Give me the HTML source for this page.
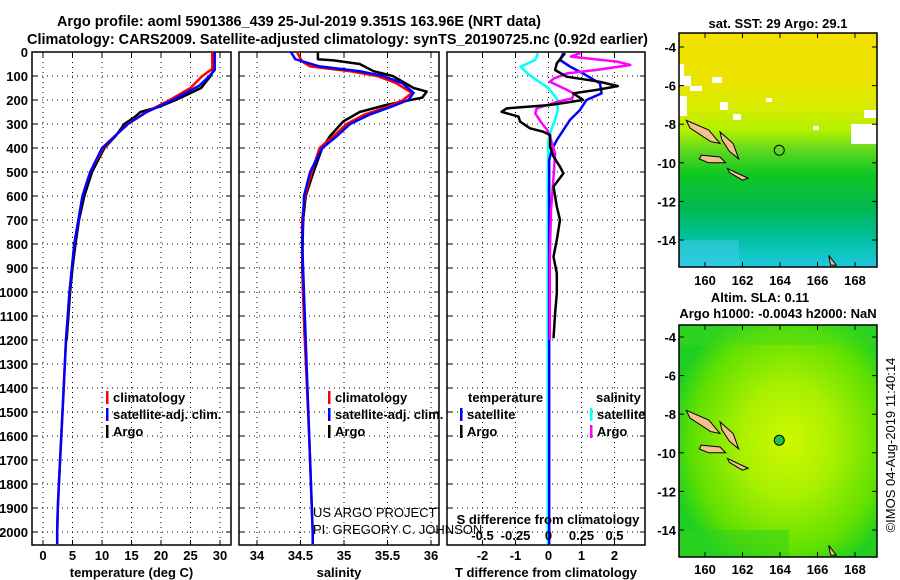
<!DOCTYPE html>
<html><head><meta charset="utf-8"><style>
html,body{margin:0;padding:0;background:#fff}
svg{display:block}
text{font-family:"Liberation Sans",Arial,sans-serif;font-weight:bold;fill:#000}
</style></head><body>
<svg id="fig" width="900" height="580" viewBox="0 0 900 580" xmlns="http://www.w3.org/2000/svg">
<rect width="900" height="580" fill="#fff"/>
<text x="57" y="26" font-size="15" textLength="484" lengthAdjust="spacingAndGlyphs">Argo profile: aoml 5901386_439 25-Jul-2019 9.351S 163.96E (NRT data)</text>
<text x="27" y="44" font-size="15" textLength="621" lengthAdjust="spacingAndGlyphs">Climatology: CARS2009. Satellite-adjusted climatology: synTS_20190725.nc (0.92d earlier)</text>
<g id="p1"></g>
<g id="p2"></g>
<g id="p3"></g>
<g id="maps"></g>
<text x="313" y="517" font-size="13" style="font-weight:normal" fill="#222">US ARGO PROJECT</text>
<text x="313" y="534" font-size="13" style="font-weight:normal" fill="#222">PI: GREGORY C. JOHNSON</text>
<text transform="translate(895,445) rotate(-90)" text-anchor="middle" font-size="13" style="font-weight:normal">©IMOS 04-Aug-2019 11:40:14</text>
</svg>
<script>
// ---- data (depth m) ----
const tClimDepth=[0,70,100,150,200,250,300,350,400,500,600,700,800,900,1000,1100,1200,1400,1500,1600,1700,1800,1900,2000,2050];
const tClim=[28.7,28.7,27.0,25.0,21.5,17.5,14.3,12.2,10.2,8.0,6.7,6.0,5.3,4.9,4.5,4.2,3.9,3.5,3.3,3.1,2.9,2.7,2.5,2.4,2.4];
const tSatDepth=[0,75,100,140,200,250,300,350,400,500,600,700,800,900,1000,1100,1200,1400,1500,1600,1700,1800,1900,2000,2050];
const tSat=[29.1,29.1,28.2,26.5,22.0,17.6,14.4,12.2,10.0,8.0,6.7,6.0,5.3,4.9,4.5,4.2,3.9,3.5,3.3,3.1,2.9,2.7,2.5,2.4,2.4];
const tArgoDepth=[0,70,100,150,200,230,250,270,300,350,400,500,600,700,800,900,1000,1100,1200];
const tArgo=[29.0,29.0,28.4,26.8,22.5,19.5,16.5,15.6,13.8,12.3,10.4,8.3,7.0,6.1,5.5,5.0,4.6,4.3,4.0];
const sClimDepth=[0,40,60,80,100,130,170,200,230,260,300,350,400,500,600,700,800,1000,1200,1600,2000,2050];
const sClim=[34.46,34.52,34.61,35.07,35.38,35.60,35.78,35.68,35.49,35.24,35.03,34.88,34.72,34.63,34.55,34.52,34.52,34.53,34.55,34.60,34.64,34.64];
const sSatDepth=[0,30,60,80,100,130,170,200,230,260,300,350,400,500,600,800,1200,1600,2000,2050];
const sSat=[34.39,34.44,34.72,35.18,35.45,35.67,35.80,35.74,35.53,35.30,35.07,34.92,34.75,34.61,34.54,34.52,34.56,34.60,34.64,34.64];
const sArgoDepth=[0,30,35,50,80,100,150,165,190,220,250,290,350,400,500,600,700,900,1200];
const sArgo=[34.70,34.70,34.88,35.18,35.34,35.56,35.80,35.95,35.90,35.49,35.18,34.99,34.84,34.75,34.65,34.56,34.53,34.52,34.55];
const dTArgoDepth=[5,47,75,103,124,142,158,172,200,221,235,249,269,290,318,332,346,394,436,478,506,561,644,700,783,853,922,1006,1089,1193];
const dTArgo=[0.5,0.25,0.2,0.55,1.56,2.1,1.46,0.75,1.05,0.05,-1.27,-1.42,-0.91,-0.86,-0.56,-0.16,0.05,0.05,0.15,0.35,0.45,0.15,0.25,0.35,0.25,0.15,0.25,0.25,0.2,0.15];
const dTSatDepth=[5,33,61,89,131,172,200,242,283,325,367,408,450,600,1000,1500,2050];
const dTSat=[0.45,0.35,0.65,1.05,1.56,1.61,1.15,0.95,0.65,0.45,0.25,0.1,0.02,0.02,0.02,0.02,0.02];
const dSArgoDepth=[5,19,40,54,75,89,110,124,158,172,193,207,235,256,290,325,367,422,506,650,850,1200];
const dSArgo=[0.24,0.17,0.52,0.62,0.36,0.14,0.04,0.01,0.14,0.19,0.18,0.07,-0.09,-0.10,-0.06,-0.01,0.02,0.05,0.04,0.02,0.01,0.01];
const dSSatDepth=[5,33,61,89,117,151,200,242,283,325,367,506,1000,1500,2050];
const dSSat=[-0.08,-0.10,-0.21,-0.16,-0.09,0.0,0.07,0.07,0.05,0.02,0.0,-0.005,-0.005,-0.005,-0.005];
const depthTicks=[0,100,200,300,400,500,600,700,800,900,1000,1100,1200,1300,1400,1500,1600,1700,1800,1900,2000];
const tTicks=[0,5,10,15,20,25,30];
const sTicks=[34,34.5,35,35.5,36];
const dTTicks=[-2,-1,0,1,2];
const dSTicks=[-0.5,-0.25,0,0.25,0.5];
const dSTickLabels=['-0.5','-0.25','0','0.25','0.5'];

const NS="http://www.w3.org/2000/svg";
function mk(tag,attrs,parent){const e=document.createElementNS(NS,tag);for(const k in attrs)e.setAttribute(k,attrs[k]);parent.appendChild(e);return e;}
const Y0=52,Y1=545;
function yD(d){return 52+d*0.24;}
function xT(t){return 43+t*5.9;}
function xS(s){return 257+(s-34)*87;}
function xDT(t){return 548.5+t*33;}
function xDS(s){return 548.5+s*132;}

function frame(g,x0,x1,vTicks,fx,labels,title){
  mk('rect',{x:x0,y:Y0,width:x1-x0,height:Y1-Y0,fill:'none',stroke:'#000','stroke-width':1.5},g);
  depthTicks.forEach(d=>{const y=yD(d);
    const gl=mk('line',{x1:x0,x2:x1,y1:y,y2:y,stroke:'#000','stroke-width':1,'stroke-dasharray':'1,4'},g);
    
    mk('line',{x1:x0,x2:x0+5,y1:y,y2:y,stroke:'#000'},g);mk('line',{x1:x1-5,x2:x1,y1:y,y2:y,stroke:'#000'},g);});
  vTicks.forEach(v=>{const x=fx(v);
    const gl=mk('line',{x1:x,x2:x,y1:Y0,y2:Y1,stroke:'#000','stroke-width':1,'stroke-dasharray':'1,4'},g);
    
    mk('line',{x1:x,x2:x,y1:Y0,y2:Y0+5,stroke:'#000'},g);mk('line',{x1:x,x2:x,y1:Y1-5,y2:Y1,stroke:'#000'},g);
    if(labels){const t=mk('text',{x:x,y:560,'text-anchor':'middle','font-size':13},g);t.textContent=String(v);
      }});
  const tt=mk('text',{x:(x0+x1)/2,y:577,'text-anchor':'middle','font-size':13},g);tt.textContent=title;
  
}
function line(g,ds,vs,fx,color,name){
  const pts=ds.map((d,i)=>fx(vs[i]).toFixed(1)+','+yD(d).toFixed(1)).join(' ');
  const p=mk('polyline',{points:pts,fill:'none',stroke:color,'stroke-width':2.5,'stroke-linejoin':'round'},g);
  
}
function legend(g,x,y,items){
  items.forEach((it,i)=>{
    mk('rect',{x:x,y:y+i*17-11,width:2.5,height:13,fill:it[1]},g);
    const t=mk('text',{x:x+7,y:y+i*17,'font-size':13},g);t.textContent=it[0];
    });
}
// panel 1
const p1=document.getElementById('p1');
frame(p1,32,231,tTicks,xT,true,'temperature (deg C)');
depthTicks.forEach(d=>{const t=mk('text',{x:28,y:yD(d)+5,'text-anchor':'end','font-size':13},p1);t.textContent=String(d);
  });
line(p1,tArgoDepth,tArgo,xT,'#000','temp-argo-line');
line(p1,tClimDepth,tClim,xT,'#f00','temp-climatology-line');
line(p1,tSatDepth,tSat,xT,'#00f','temp-satellite-line');
legend(p1,106,402,[['climatology','#f00'],['satellite-adj. clim.','#00f'],['Argo','#000']]);
// panel 2
const p2=document.getElementById('p2');
frame(p2,239,439,sTicks,xS,true,'salinity');
line(p2,sArgoDepth,sArgo,xS,'#000','sal-argo-line');
line(p2,sClimDepth,sClim,xS,'#f00','sal-climatology-line');
line(p2,sSatDepth,sSat,xS,'#00f','sal-satellite-line');
legend(p2,328,402,[['climatology','#f00'],['satellite-adj. clim.','#00f'],['Argo','#000']]);
// panel 3
const p3=document.getElementById('p3');
frame(p3,447,645,dTTicks,xDT,true,'T difference from climatology');
line(p3,dSSatDepth,dSSat,xDS,'#0ff','sdiff-satellite-line');
line(p3,dTSatDepth,dTSat,xDT,'#00f','tdiff-satellite-line');
line(p3,dSArgoDepth,dSArgo,xDS,'#f0f','sdiff-argo-line');
line(p3,dTArgoDepth,dTArgo,xDT,'#000','tdiff-argo-line');
{const t=mk('text',{x:468,y:402,'font-size':13},p3);t.textContent='temperature';
 const s=mk('text',{x:596,y:402,'font-size':13},p3);s.textContent='salinity';}
legend(p3,460,419,[['satellite','#00f'],['Argo','#000']]);
legend(p3,590,419,[['satellite','#0ff'],['Argo','#f0f']]);
{const t=mk('text',{x:548,y:524,'text-anchor':'middle','font-size':13},p3);t.textContent='S difference from climatology';
 }
dSTicks.forEach((v,i)=>{const t=mk('text',{x:xDS(v),y:540,'text-anchor':'middle','font-size':13},p3);t.textContent=dSTickLabels[i];
  });

// maps
const maps=document.getElementById('maps');
const defs=mk('defs',{},maps);
const lg=mk('linearGradient',{id:'sst',x1:0,y1:0,x2:0,y2:1},defs);
[['0','#f2e000'],['0.2','#ece400'],['0.32','#d8ec00'],['0.42','#b0f000'],['0.5','#60d820'],['0.6','#10c820'],['0.75','#00b850'],['0.88','#00c0a0'],['1','#20c8e0']].forEach(s=>mk('stop',{offset:s[0],'stop-color':s[1]},lg));
const rg=mk('radialGradient',{id:'sla',cx:0.55,cy:0.5,r:0.6},defs);
[['0','#d0f800'],['0.4','#a8f000'],['0.8','#60e000'],['1','#20d020']].forEach(s=>mk('stop',{offset:s[0],'stop-color':s[1]},rg));
function mapbox(y0,y1,fill,name){
  const g=mk('g',{},maps);
  mk('rect',{x:679,y:y0,width:198,height:y1-y0,fill:fill},g);
  return g;
}
function lonX(l){return 705+(l-160)*18.75;}
function islands(g,latY){
  const isl=[[[159,-7.8],[160.2,-8.3],[160.8,-9.0],[160.3,-8.9],[159.2,-8.2]],
             [[159.8,-9.6],[160.8,-9.7],[161.1,-10.0],[160.2,-10.0],[159.7,-9.8]],
             [[160.8,-8.4],[161.5,-9.0],[161.8,-9.8],[161.3,-9.4],[160.9,-8.8]],
             [[161.2,-10.3],[162.3,-10.8],[162.0,-10.9],[161.3,-10.5]],
             [[166.6,-14.8],[167.0,-15.3],[166.7,-15.3]]];
  isl.forEach(p=>{const e=mk('polygon',{points:p.map(q=>lonX(q[0])+','+latY(q[1])).join(' '),fill:'#f4c090',stroke:'#000','stroke-width':1},g);
    });
}
function axes(y0,y1,latY,lonLabelY){
  mk('rect',{x:679,y:y0,width:198,height:y1-y0,fill:'none',stroke:'#000','stroke-width':1.5},maps);
  [-4,-6,-8,-10,-12,-14].forEach(l=>{const y=latY(l);mk('line',{x1:679,x2:684,y1:y,y2:y,stroke:'#000'},maps);mk('line',{x1:872,x2:877,y1:y,y2:y,stroke:'#000'},maps);
    const t=mk('text',{x:676,y:y+5,'text-anchor':'end','font-size':13},maps);t.textContent=String(l);
    });
  [160,162,164,166,168].forEach(l=>{const x=lonX(l);mk('line',{x1:x,x2:x,y1:y0,y2:y0+5,stroke:'#000'},maps);mk('line',{x1:x,x2:x,y1:y1-5,y2:y1,stroke:'#000'},maps);
    const t=mk('text',{x:x,y:lonLabelY,'text-anchor':'middle','font-size':13},maps);t.textContent=String(l);
    });
}
const latT=l=>47+(-4-l)*19.3, latB=l=>337+(-4-l)*19.3;
const g1=mapbox(33,267,'url(#sst)','sst-map');
[[679,64,5,12],[679,76,12,10],[679,96,8,20],[712,77,10,6],[720,102,8,8],[766,98,6,4],[733,114,8,6],[813,126,6,4],[851,124,26,20],[864,110,13,8],[690,86,12,5]].forEach(r=>mk('rect',{x:r[0],y:r[1],width:r[2],height:r[3],fill:'#fff'},g1));
mk('rect',{x:679,y:240,width:60,height:27,fill:'#40d0f0',opacity:0.5},g1);
islands(g1,latT);
mk('circle',{cx:lonX(163.96),cy:latT(-9.351),r:5,fill:'none',stroke:'#000'},g1);
axes(33,267,latT,285);
{const t=mk('text',{x:778,y:28,'text-anchor':'middle','font-size':13},maps);t.textContent='sat. SST: 29 Argo: 29.1';}
const g2=mapbox(325,557,'url(#sla)','sla-map');
mk('rect',{x:679,y:325,width:198,height:20,fill:'#40d820',opacity:0.4},g2);
mk('rect',{x:679,y:530,width:110,height:27,fill:'#30d020',opacity:0.5},g2);
islands(g2,latB);
mk('circle',{cx:lonX(163.96),cy:latB(-9.351),r:5,fill:'#20c040',stroke:'#000'},maps);
axes(325,557,latB,574);
{const t=mk('text',{x:760,y:302,'text-anchor':'middle','font-size':13},maps);t.textContent='Altim. SLA: 0.11';
 const t2=mk('text',{x:778,y:318,'text-anchor':'middle','font-size':13},maps);t2.textContent='Argo h1000: -0.0043 h2000: NaN';}
</script>
</body></html>
